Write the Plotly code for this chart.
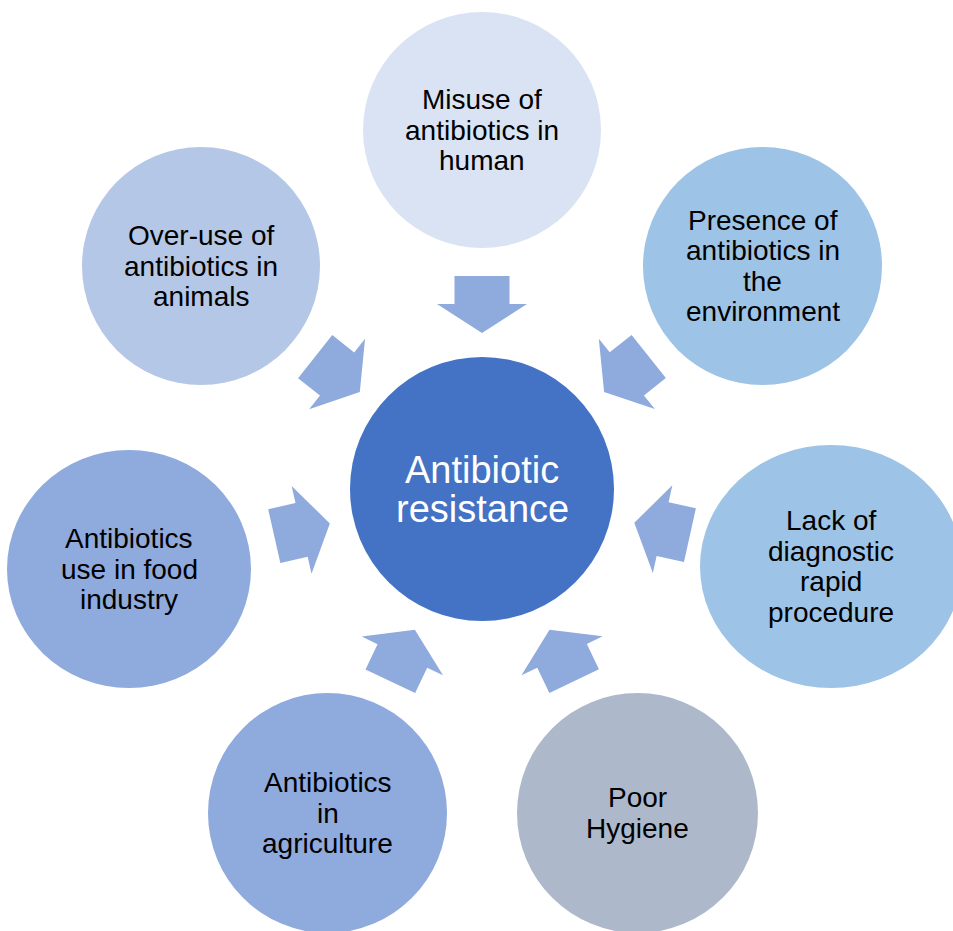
import plotly.graph_objects as go
import math

# ---- data ----
labels = [
    ["Misuse of", "antibiotics in", "human"],
    ["Presence of", "antibiotics in", "the", "environment"],
    ["Lack of", "diagnostic", "rapid", "procedure"],
    ["Poor", "Hygiene"],
    ["Antibiotics", "in", "agriculture"],
    ["Antibiotics", "use in food", "industry"],
    ["Over-use of", "antibiotics in", "animals"],
]
circle_colors = ["#DAE3F3", "#9DC3E6", "#9DC3E6", "#ADB9CA", "#8FAADC", "#8FAADC", "#B4C7E7"]
# bounding boxes (x0, x1, y0, y1) in page pixels
circle_boxes = [
    (363, 601, 12, 248),
    (643, 882, 147, 385),
    (700, 962, 445, 688),
    (517, 758, 693, 933),
    (208, 447, 693, 933),
    (7, 251, 450, 688),
    (82, 320, 147, 385),
]
center_label = ["Antibiotic", "resistance"]
center_box = (350, 614, 357, 621)
center_color = "#4472C4"
arrow_color = "#8FAADC"

W, H = 953, 931
fig = go.Figure()

ccx = (center_box[0] + center_box[1]) / 2
ccy = (center_box[2] + center_box[3]) / 2

shapes = []
annotations = []
font_family = "Liberation Sans, Arial, sans-serif"

def add_text(lines, cx, cy, size, spacing, color):
    n = len(lines)
    for i, t in enumerate(lines):
        annotations.append(dict(
            x=cx, y=cy + (i - (n - 1) / 2) * spacing, xref="x", yref="y",
            text=t, showarrow=False, xanchor="center", yanchor="middle",
            font=dict(family=font_family, size=size, color=color)))

for lines, col, (x0, x1, y0, y1) in zip(labels, circle_colors, circle_boxes):
    shapes.append(dict(type="circle", xref="x", yref="y", x0=x0, x1=x1, y0=y0, y1=y1,
                       fillcolor=col, line=dict(width=0), layer="below"))
    cx, cy = (x0 + x1) / 2, (y0 + y1) / 2
    add_text(lines, cx, cy, 28, 30.5, "black")

    # arrow pointing from this circle toward the center
    dx, dy = cx - ccx, cy - ccy
    d = math.hypot(dx, dy)
    ux, uy = dx / d, dy / d
    vx, vy = -uy, ux
    local = [(156, 0), (185, 45), (185, 27.5), (213, 27.5), (213, -27.5),
             (185, -27.5), (185, -45), (156, 0)]
    xs = [ccx + r * ux + p * vx for r, p in local]
    ys = [ccy + r * uy + p * vy for r, p in local]
    fig.add_trace(go.Scatter(x=xs, y=ys, mode="lines", fill="toself",
                             fillcolor=arrow_color, line=dict(width=0, color=arrow_color),
                             hoverinfo="skip", showlegend=False))

shapes.append(dict(type="circle", xref="x", yref="y", x0=center_box[0], x1=center_box[1],
                   y0=center_box[2], y1=center_box[3], fillcolor=center_color,
                   line=dict(width=0), layer="below"))
add_text(center_label, ccx, ccy, 38, 39, "white")

fig.update_layout(
    width=W, height=H, margin=dict(l=0, r=0, t=0, b=0),
    paper_bgcolor="white", plot_bgcolor="white",
    xaxis=dict(range=[0, W], visible=False, fixedrange=True),
    yaxis=dict(range=[H, 0], visible=False, fixedrange=True),
    shapes=shapes, annotations=annotations, showlegend=False,
)
fig.write_html("out.html", config={"displayModeBar": False},
               post_script="document.body.style.margin='0';document.body.style.overflow='hidden';")
